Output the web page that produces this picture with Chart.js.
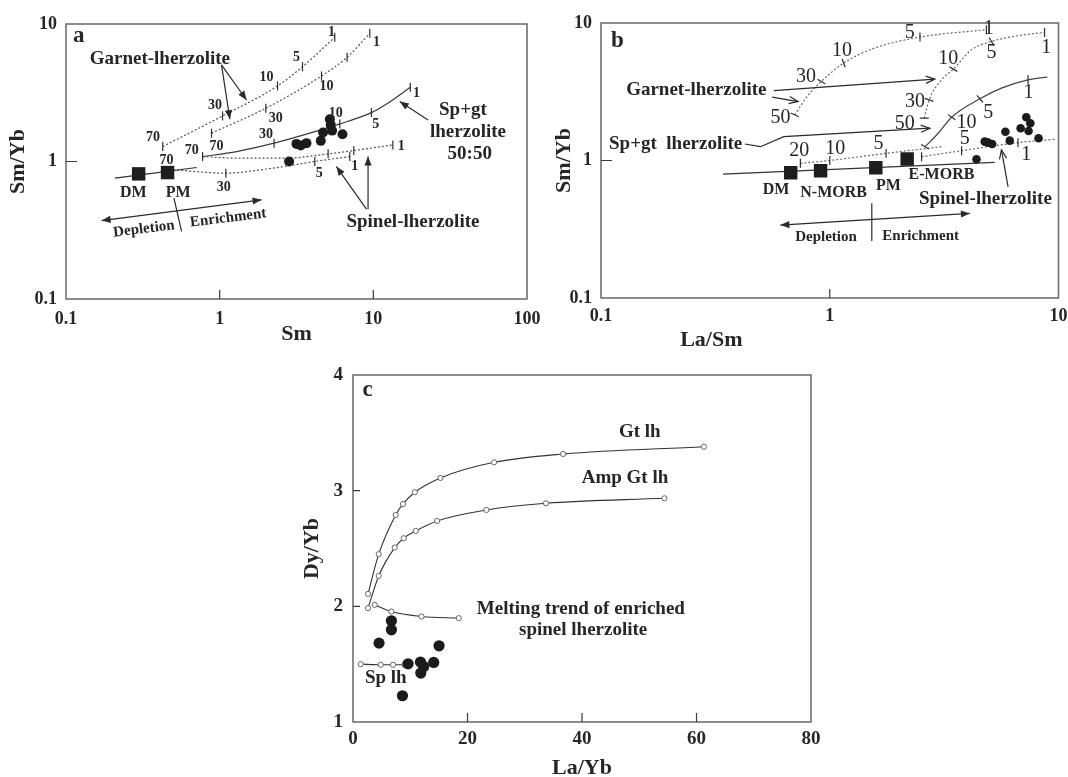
<!DOCTYPE html>
<html>
<head>
<meta charset="utf-8">
<script src="https://cdn.jsdelivr.net/npm/chart.js@4.4.0/dist/chart.umd.min.js"></script>
<style>
  body { margin: 0; background: #fff; width: 1068px; height: 777px; position: relative; overflow: hidden; }
  .panel { position: absolute; }
</style>
</head>
<body>
<div class="panel" style="left:0;top:0"><canvas id="chartA" width="545" height="350"></canvas></div>
<div class="panel" style="left:545px;top:0"><canvas id="chartB" width="523" height="350"></canvas></div>
<div class="panel" style="left:290px;top:360px"><canvas id="chartC" width="540" height="417"></canvas></div>
<script>
// ---------- panel a : Sm/Yb vs Sm ----------
const aTickX = [0.1, 1, 10, 100];
const aTickY = [0.1, 1, 10];
const aGtUpX = [0.426, 1.044, 2.38, 3.46, 5.61];
const aGtUpY = [1.284, 2.146, 3.545, 4.89, 8.0];
const aGtLowX = [0.885, 1.996, 4.6, 6.75, 9.48];
const aGtLowY = [1.607, 2.44, 4.19, 5.73, 8.56];
const aSpGtX = [0.774, 1.288, 2.26, 3.86, 6.05, 9.72, 12.2, 17.4];
const aSpGtY = [1.086, 1.181, 1.36, 1.607, 1.877, 2.268, 2.62, 3.47];
const aSpUpX = [0.774, 1.288, 2.72, 5.08, 7.46, 13.4];
const aSpUpY = [1.086, 1.058, 1.058, 1.137, 1.201, 1.32];
const aSpLowX = [0.499, 1.097, 2.23, 4.16, 7.03];
const aSpLowY = [0.87, 0.823, 0.895, 1.0, 1.086];
const aMantleX = [0.208, 0.708];
const aMantleY = [0.757, 0.904];
const aSourceX = [0.297, 0.458];          // DM, PM
const aSourceY = [0.813, 0.831];
const aSampleX = [2.83, 3.16, 3.37, 3.67, 4.55, 4.71, 5.21, 5.28, 5.39, 6.3];
const aSampleY = [1.0, 1.343, 1.306, 1.36, 1.413, 1.623, 2.03, 1.846, 1.678, 1.58];

// ---------- panel b : Sm/Yb vs La/Sm ----------
const bTickX = [0.1, 1, 10];
const bTickY = [0.1, 1, 10];
const bGtUpX = [0.703, 0.796, 0.918, 1.15, 1.527, 2.48, 4.84];
const bGtUpY = [2.146, 2.917, 3.753, 5.11, 6.46, 7.9, 8.94];
const bGtMidX = [2.59, 2.72, 3.08, 3.47, 4.17, 5.09, 6.65, 8.69];
const bGtMidY = [2.03, 2.76, 3.86, 4.62, 6.39, 7.34, 8.08, 8.54];
const bSpGtX = [2.61, 2.98, 3.41, 4.53, 5.63, 7.36, 8.93];
const bSpGtY = [1.26, 1.578, 2.065, 2.81, 3.36, 3.86, 4.04];
const bMixX = [0.744, 1.0, 1.763, 3.08];
const bMixY = [0.954, 1.0, 1.128, 1.26];
const bSpX = [2.52, 3.77, 6.65, 9.61];
const bSpY = [1.066, 1.179, 1.348, 1.427];
const bMantleX = [0.3414, 5.26];
const bMantleY = [0.797, 0.97];
const bSourceX = [0.675, 0.912, 1.59, 2.18];   // DM, N-MORB, PM, E-MORB
const bSourceY = [0.815, 0.843, 0.886, 1.025];
const bSampleX = [4.38, 4.76, 4.93, 5.13, 5.86, 6.12, 6.83, 7.23, 7.53, 7.4, 8.18];
const bSampleY = [1.02, 1.371, 1.348, 1.319, 1.62, 1.394, 1.717, 2.065, 1.867, 1.64, 1.45];

// ---------- panel c : Dy/Yb vs La/Yb ----------
const cTickX = [0, 20, 40, 60, 80];
const cTickY = [1, 2, 3, 4];
const cGtX = [2.62, 4.49, 7.46, 8.74, 10.79, 15.28, 24.65, 36.7, 61.3];
const cGtY = [2.108, 2.451, 2.79, 2.885, 2.986, 3.11, 3.245, 3.317, 3.38];
const cAmpX = [2.62, 4.49, 7.29, 8.86, 10.96, 14.69, 23.3, 33.7, 54.4];
const cAmpY = [1.984, 2.263, 2.508, 2.589, 2.652, 2.738, 2.833, 2.891, 2.934];
const cEnrX = [3.79, 6.71, 11.96, 18.48];
const cEnrY = [2.013, 1.955, 1.912, 1.898];
const cSpX = [1.35, 4.84, 7.0, 9.0];
const cSpY = [1.5, 1.495, 1.495, 1.495];
const cSampleX = [6.71, 6.71, 4.55, 15.03, 9.62, 11.78, 12.36, 11.84, 14.1, 8.64];
const cSampleY = [1.875, 1.797, 1.682, 1.659, 1.503, 1.518, 1.48, 1.423, 1.515, 1.227];

const serif = '"Liberation Serif", "Times New Roman", Times, serif';
const ink = '#262626';

function xy(xs, ys) {
  return xs.map((v, i) => ({ x: v, y: ys[i] }));
}

function axis(o) {
  return {
    type: o.type, min: o.min, max: o.max,
    afterBuildTicks: s => { s.ticks = o.values.map(v => ({ value: v })); },
    afterFit: s => {
      if (o.isX) { s.height = o.size; s.paddingLeft = 0; s.paddingRight = 0; }
      else { s.width = o.size; s.paddingTop = 0; s.paddingBottom = 0; }
    },
    grid: { display: false, drawTicks: false },
    border: { display: false },
    ticks: {
      padding: o.pad, color: ink, autoSkip: false, maxRotation: 0,
      font: { family: serif, size: o.font || 18, weight: 'bold' },
      callback: v => String(v)
    },
    title: {
      display: !!o.title, text: o.title, color: ink,
      font: { family: serif, size: 22, weight: 'bold', lineHeight: o.titleLH || 1.2 },
      padding: o.titlePad || 0
    }
  };
}

// a melting curve; marks = {pointIndex: tickRotation}
function curve(xs, ys, o) {
  const marks = o.marks || {};
  return {
    type: 'line', data: xy(xs, ys), showLine: true, fill: false, order: 2,
    borderColor: o.color || '#3a3a3a', borderWidth: o.width || 1.2, borderDash: o.dash || [],
    tension: 0.4, cubicInterpolationMode: 'monotone',
    pointStyle: 'line', pointBorderColor: '#2e2e2e', pointBorderWidth: 1.2,
    pointRadius: c => (c.dataIndex in marks ? 4.5 : 0),
    pointRotation: c => (marks[c.dataIndex] !== undefined ? marks[c.dataIndex] : 90),
    pointHoverRadius: 0
  };
}

function dots(xs, ys, r) {
  return { type: 'scatter', data: xy(xs, ys), order: 0, pointRadius: r, pointHoverRadius: r,
    pointBackgroundColor: '#1b1b1b', pointBorderColor: '#1b1b1b', pointBorderWidth: 0 };
}

function squares(xs, ys) {
  return { type: 'scatter', data: xy(xs, ys), order: 1, pointStyle: 'rect', pointRadius: 9.5,
    pointHoverRadius: 9.5, pointBackgroundColor: '#1e1e1e', pointBorderColor: '#1e1e1e', pointBorderWidth: 0 };
}

function head(ctx, x0, y0, x1, y1, style) {
  const a = Math.atan2(y1 - y0, x1 - x0), L = 9, W = 3.6;
  const bx = x1 - L * Math.cos(a), by = y1 - L * Math.sin(a);
  const nx = -Math.sin(a) * W, ny = Math.cos(a) * W;
  ctx.beginPath();
  ctx.moveTo(bx + nx, by + ny);
  ctx.lineTo(x1, y1);
  ctx.lineTo(bx - nx, by - ny);
  if (style === 'open') { ctx.stroke(); } else { ctx.closePath(); ctx.fill(); }
}

// frame, inward axis ticks, arrows and labels
const decor = {
  id: 'decor',
  afterDraw(chart, args, opts) {
    const { ctx, chartArea: ca, scales: { x, y } } = chart;
    ctx.save();
    ctx.strokeStyle = '#707070';
    ctx.lineWidth = 1.6;
    ctx.strokeRect(ca.left, ca.top, ca.right - ca.left, ca.bottom - ca.top);
    ctx.strokeStyle = '#3a3a3a';
    ctx.lineWidth = 1.2;
    ctx.beginPath();
    (opts.xMarks || []).forEach(v => {
      const px = x.getPixelForValue(v);
      ctx.moveTo(px, ca.bottom); ctx.lineTo(px, ca.bottom - opts.tickLen[0]);
    });
    (opts.yMarks || []).forEach(v => {
      const py = y.getPixelForValue(v);
      ctx.moveTo(ca.left, py); ctx.lineTo(ca.left + opts.tickLen[1], py);
    });
    ctx.stroke();

    ctx.strokeStyle = '#2a2a2a';
    ctx.fillStyle = '#2a2a2a';
    ctx.lineWidth = 1.2;
    (opts.arrows || []).forEach(ar => {
      const p = ar.pts.map(q => [x.getPixelForValue(q[0]), y.getPixelForValue(q[1])]);
      ctx.beginPath();
      p.forEach((q, i) => (i ? ctx.lineTo(q[0], q[1]) : ctx.moveTo(q[0], q[1])));
      ctx.stroke();
      const n = p.length;
      if (ar.end) head(ctx, p[n - 2][0], p[n - 2][1], p[n - 1][0], p[n - 1][1], ar.end);
      if (ar.start) head(ctx, p[1][0], p[1][1], p[0][0], p[0][1], ar.start);
    });

    ctx.fillStyle = ink;
    ctx.textBaseline = 'middle';
    (opts.texts || []).forEach(t => {
      const [txt, vx, vy, size, extra] = t;
      const e = extra || {};
      ctx.save();
      ctx.translate(x.getPixelForValue(vx), y.getPixelForValue(vy));
      if (e.rot) ctx.rotate(e.rot * Math.PI / 180);
      ctx.font = `${e.weight || 'bold'} ${size}px ${serif}`;
      ctx.textAlign = e.align || 'center';
      ctx.fillText(txt, 0, 0);
      ctx.restore();
    });
    ctx.restore();
  }
};

function makeChart(id, datasets, scales, layoutPad, decorOpts) {
  return new Chart(document.getElementById(id), {
    type: 'scatter',
    data: { datasets },
    options: {
      responsive: false, animation: false,
      layout: { padding: layoutPad },
      scales,
      plugins: { legend: { display: false }, tooltip: { enabled: false }, decor: decorOpts }
    },
    plugins: [decor]
  });
}

// ---------- panel a ----------
const numA = 14;
makeChart('chartA', [
  dots(aSampleX, aSampleY, 5),
  squares(aSourceX, aSourceY),
  curve(aGtUpX, aGtUpY, { dash: [2, 2], color: '#555', marks: { 0: 90, 1: 90, 2: 90, 3: 90, 4: 90 } }),
  curve(aGtLowX, aGtLowY, { dash: [2, 2], color: '#555', marks: { 0: 90, 1: 90, 2: 90, 3: 90, 4: 90 } }),
  curve(aSpGtX, aSpGtY, { marks: { 0: 90, 2: 90, 4: 90, 5: 90, 7: 90 } }),
  curve(aSpUpX, aSpUpY, { dash: [2, 2], color: '#555', marks: { 3: 90, 4: 90, 5: 90 } }),
  curve(aSpLowX, aSpLowY, { dash: [2, 2], color: '#555', marks: { 1: 90, 3: 90, 4: 90 } }),
  curve(aMantleX, aMantleY, { color: '#333' })
], {
  x: axis({ type: 'logarithmic', min: 0.1, max: 100, values: aTickX, isX: true, size: 51, pad: 10,
    title: 'Sm', titlePad: { top: 0, bottom: 2 } }),
  y: axis({ type: 'logarithmic', min: 0.1, max: 10, values: aTickY, size: 66, pad: 9,
    title: 'Sm/Yb', titlePad: { top: 5, bottom: 0 } })
}, { left: 0, right: 18, top: 24, bottom: 0 }, {
  xMarks: [1, 10], yMarks: [1], tickLen: [9, 11],
  arrows: [
    { pts: [[1.028, 5.04], [1.496, 2.80]], end: 'filled' },
    { pts: [[1.028, 5.04], [1.165, 2.03]], end: 'filled' },
    { pts: [[22.7, 2.007], [14.85, 2.727]], end: 'filled' },
    { pts: [[9.02, 0.45], [5.75, 0.919]], end: 'filled' },
    { pts: [[9.24, 0.45], [9.24, 1.086]], end: 'filled' },
    { pts: [[0.1706, 0.372], [1.873, 0.526]], end: 'filled', start: 'filled' },
    { pts: [[0.504, 0.542], [0.565, 0.31]] }
  ],
  texts: [
    ['a', 0.111, 8.18, 23, { align: 'left' }],
    ['Garnet-lherzolite', 0.408, 5.54, 19],
    ['Sp+gt', 38.3, 2.37, 19],
    ['lherzolite', 41.3, 1.623, 19],
    ['50:50', 42.4, 1.137, 19],
    ['Spinel-lherzolite', 18.1, 0.36, 19],
    ['Depletion', 0.3215, 0.3226, 15, { rot: -7 }],
    ['Enrichment', 1.136, 0.3877, 15, { rot: -7 }],
    ['DM', 0.274, 0.595, 16],
    ['PM', 0.537, 0.595, 16],
    ['70', 0.368, 1.485, numA], ['30', 0.931, 2.54, numA], ['10', 2.02, 4.12, numA],
    ['5', 3.16, 5.76, numA], ['1', 5.34, 8.65, numA],
    ['70', 0.955, 1.284, numA], ['30', 2.32, 2.065, numA], ['10', 4.95, 3.545, numA],
    ['1', 10.47, 7.31, numA],
    ['70', 0.657, 1.2, numA], ['30', 2.0, 1.562, numA], ['10', 5.69, 2.245, numA],
    ['5', 10.37, 1.877, numA], ['1', 19.06, 3.14, numA],
    ['1', 15.2, 1.284, numA],
    ['30', 1.065, 0.651, numA], ['5', 4.44, 0.813, numA], ['1', 7.57, 0.919, numA],
    ['70', 0.4516, 1.016, numA]
  ]
});

// ---------- panel b ----------
const numB = 20;
const nb = { weight: 'normal' };
makeChart('chartB', [
  dots(bSampleX, bSampleY, 4.3),
  squares(bSourceX, bSourceY),
  curve(bGtUpX, bGtUpY, { dash: [2, 2], color: '#666', marks: { 0: 25, 2: 30, 3: 70, 5: 90, 6: 90 } }),
  curve(bGtMidX, bGtMidY, { dash: [2, 2], color: '#666', marks: { 0: 0, 1: 20, 3: 30, 5: 60, 7: 90 } }),
  curve(bSpGtX, bSpGtY, { color: '#444', marks: { 0: 30, 2: 35, 3: 50, 5: 90 } }),
  curve(bMixX, bMixY, { dash: [2, 2], color: '#666', marks: { 0: 90, 1: 90, 2: 90 } }),
  curve(bSpX, bSpY, { dash: [2, 2], color: '#666', marks: { 0: 90, 1: 90, 2: 90 } }),
  curve(bMantleX, bMantleY, { color: '#333' })
], {
  x: axis({ type: 'logarithmic', min: 0.1, max: 10, values: bTickX, isX: true, size: 52, pad: 8 }),
  y: axis({ type: 'logarithmic', min: 0.1, max: 10, values: bTickY, size: 56, pad: 9,
    title: 'Sm/Yb', titlePad: { top: 6, bottom: 0 } })
}, { left: 0, right: 8, top: 23, bottom: 0 }, {
  xMarks: [1], yMarks: [1], tickLen: [9, 11],
  arrows: [
    { pts: [[0.5695, 3.227], [2.88, 3.906]], end: 'open' },
    { pts: [[0.56, 2.888], [0.727, 2.683]], end: 'open' },
    { pts: [[0.4256, 1.319], [0.498, 1.26], [0.63, 1.491], [2.74, 1.717]], end: 'open' },
    { pts: [[6.02, 0.644], [5.63, 1.193]], end: 'open' },
    { pts: [[0.6085, 0.339], [4.1, 0.412]], end: 'filled', start: 'filled' },
    { pts: [[1.527, 0.488], [1.527, 0.26]] }
  ],
  texts: [
    ['b', 0.1106, 7.34, 23, { align: 'left' }],
    ['Garnet-lherzolite', 0.261, 3.227, 19],
    ['Sp+gt  lherzolite', 0.212, 1.319, 19],
    ['Spinel-lherzolite', 4.79, 0.5215, 19],
    ['Depletion', 0.963, 0.278, 15],
    ['Enrichment', 2.497, 0.282, 15],
    ['DM', 0.583, 0.61, 16],
    ['N-MORB', 1.04, 0.582, 16],
    ['PM', 1.806, 0.655, 16],
    ['E-MORB', 3.08, 0.784, 16],
    ['La/Sm', 0.3036, 0.0492, 22],
    ['50', 0.6085, 2.03, numB, nb], ['30', 0.788, 4.04, numB, nb], ['10', 1.13, 6.31, numB, nb],
    ['5', 2.24, 8.46, numB, nb], ['1', 4.95, 9.04, numB, nb],
    ['10', 3.30, 5.47, numB, nb], ['5', 5.09, 6.11, numB, nb], ['1', 8.84, 6.57, numB, nb],
    ['30', 2.36, 2.683, numB, nb], ['50', 2.13, 1.846, numB, nb],
    ['10', 3.96, 1.886, numB, nb], ['5', 4.93, 2.23, numB, nb], ['1', 7.4, 3.09, numB, nb],
    ['20', 0.736, 1.179, numB, nb], ['10', 1.057, 1.227, numB, nb], ['5', 1.633, 1.319, numB, nb],
    ['5', 3.89, 1.451, numB, nb], ['1', 7.23, 1.097, numB, nb]
  ]
});

// ---------- panel c ----------
function openLine(xs, ys) {
  return { type: 'line', data: xy(xs, ys), showLine: true, fill: false, order: 2,
    borderColor: '#333', borderWidth: 1.1, tension: 0.4, cubicInterpolationMode: 'monotone',
    pointRadius: 2.6, pointHoverRadius: 2.6, pointBackgroundColor: '#fff',
    pointBorderColor: '#666', pointBorderWidth: 1 };
}
makeChart('chartC', [
  dots(cSampleX, cSampleY, 5.6),
  openLine(cGtX, cGtY),
  openLine(cAmpX, cAmpY),
  openLine(cEnrX, cEnrY),
  openLine(cSpX, cSpY)
], {
  x: axis({ type: 'linear', min: 0, max: 80, values: cTickX, isX: true, size: 55, pad: 6, font: 19,
    title: 'La/Yb', titleLH: 0.8, titlePad: { top: 0, bottom: 0 } }),
  y: axis({ type: 'linear', min: 1, max: 4, values: cTickY, size: 63, pad: 10, font: 19,
    title: 'Dy/Yb', titlePad: { top: 9, bottom: 0 } })
}, { left: 0, right: 19, top: 15, bottom: 0 }, {
  xMarks: [20, 40, 60], yMarks: [2, 3], tickLen: [9, 7],
  texts: [
    ['c', 1.64, 3.87, 23, { align: 'left' }],
    ['Gt lh', 50.1, 3.51, 19],
    ['Amp Gt lh', 47.5, 3.107, 19],
    ['Melting trend of enriched', 39.8, 1.976, 19],
    ['spinel lherzolite', 40.2, 1.791, 19],
    ['Sp lh', 5.72, 1.38, 19]
  ]
});
</script>
</body>
</html>
